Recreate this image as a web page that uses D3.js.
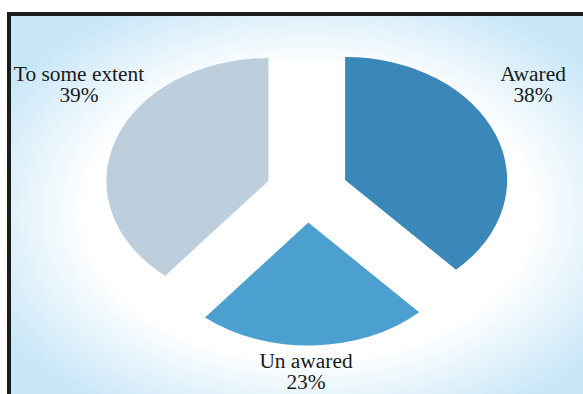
<!DOCTYPE html>
<html>
<head>
  <script src="https://d3js.org/d3.v7.min.js"></script>
  <style>
    body { margin: 0; background: #fff; }
    svg { display: block; }
    .lbl { font-family: "Liberation Serif", "DejaVu Serif", serif; font-size: 20px; fill: #1a1a1a; }
  </style>
</head>
<body>
<div id="chart"></div>
<script>
  // data
  var categories = ["Awared", "Un awared", "To some extent"];
  var percents = [38, 23, 39];
  var colors = ["#3a87b9", "#4ba0cf", "#bdcfdc"];

  var width = 583, height = 394;
  var cx = 307, cy = 191.5;
  var rx = 162, ry = 123;   // pie is drawn squashed into an ellipse
  var explode = 41;

  // where each label sits (centre / baseline of first line)
  var labelAt = {
    "Awared": [533, 81],
    "Un awared": [306, 368],
    "To some extent": [79, 81]
  };

  var svg = d3.select("#chart").append("svg")
    .attr("width", width)
    .attr("height", height);

  var defs = svg.append("defs");
  var grad = defs.append("radialGradient")
    .attr("id", "bg")
    .attr("cx", "52%").attr("cy", "52%").attr("r", "62%");
  grad.append("stop").attr("offset", "0%").attr("stop-color", "#ffffff");
  grad.append("stop").attr("offset", "62%").attr("stop-color", "#ffffff");
  grad.append("stop").attr("offset", "100%").attr("stop-color", "#c9e7f8");

  // frame: black on left and top only
  svg.append("rect")
    .attr("x", 7).attr("y", 12)
    .attr("width", width - 7).attr("height", height - 12)
    .attr("fill", "#1c1c1c");
  svg.append("rect")
    .attr("x", 11).attr("y", 16)
    .attr("width", width - 11).attr("height", height - 16)
    .attr("fill", "url(#bg)");

  var pie = d3.pie()
    .sort(null)
    .value(function(d) { return d; });

  var arc = d3.arc()
    .innerRadius(0)
    .outerRadius(rx);

  var g = svg.append("g")
    .attr("transform", "translate(" + cx + "," + cy + ") scale(1," + (ry / rx) + ")");

  g.selectAll(".slice")
    .data(pie(percents))
    .enter().append("path")
    .attr("class", "slice")
    .attr("d", arc)
    .attr("fill", function(d, i) { return colors[i]; })
    .attr("transform", function(d) {
      var a = (d.startAngle + d.endAngle) / 2;
      return "translate(" + (Math.sin(a) * explode) + "," + (-Math.cos(a) * explode) + ")";
    });

  // text in the original is a little wide, so stretch it slightly
  var labels = svg.selectAll(".lbl")
    .data(categories)
    .enter().append("text")
    .attr("class", "lbl")
    .attr("text-anchor", "middle")
    .attr("transform", function(d) {
      return "translate(" + labelAt[d][0] + "," + labelAt[d][1] + ") scale(1.07,1)";
    });

  labels.append("tspan")
    .attr("x", 0)
    .text(function(d) { return d; });
  labels.append("tspan")
    .attr("x", 0)
    .attr("dy", 21.5)
    .text(function(d, i) { return percents[i] + "%"; });
</script>
</body>
</html>
